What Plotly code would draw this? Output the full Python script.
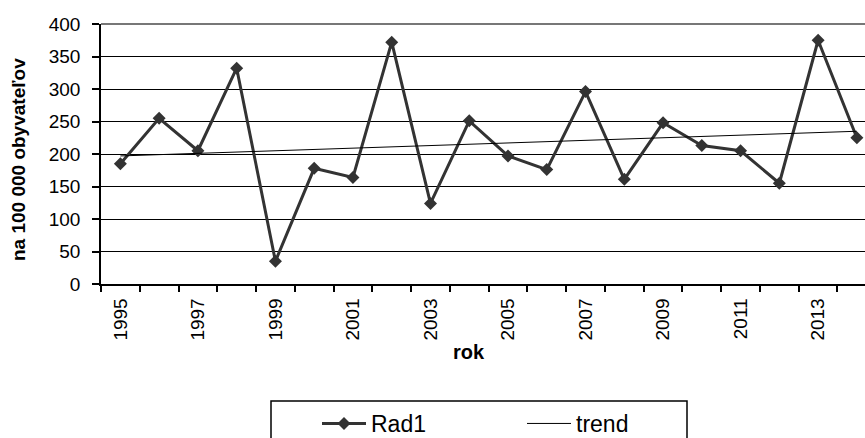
import plotly.graph_objects as go

years = list(range(1995, 2015))
rad1 = [185, 255, 205, 332, 35, 178, 164, 372, 124, 251, 197, 176, 296, 161, 248, 213, 205, 155, 375, 225]
trend_years = [1995, 2014]
trend_vals = [197, 235]
label_years = years[::2]
label_text = [str(y) for y in label_years]

FONT = "Liberation Sans, Arial, sans-serif"

fig = go.Figure()
fig.add_trace(go.Scatter(
    x=years, y=rad1, name="Rad1", mode="lines+markers",
    line=dict(color="#333333", width=3),
    marker=dict(symbol="diamond", size=10, color="#333333"),
))
fig.add_trace(go.Scatter(
    x=trend_years, y=trend_vals, name="trend", mode="lines",
    line=dict(color="#000000", width=1),
))

fig.update_layout(
    width=865, height=438,
    margin=dict(l=101, r=0, t=24, b=154, autoexpand=False),
    paper_bgcolor="white", plot_bgcolor="white",
    font=dict(family=FONT, size=19, color="black"),
    showlegend=True,
    legend=dict(
        orientation="h", x=(317 - 101) / 764, xanchor="left",
        y=(284 - 402) / 260, yanchor="top",
        borderwidth=0, bgcolor="rgba(0,0,0,0)",
        font=dict(size=23), entrywidth=146, entrywidthmode="pixels",
        itemwidth=44,
    ),
    xaxis=dict(
        range=[1994.5, 2014.21],
        tickmode="array", tickvals=label_years, ticktext=label_text,
        tickangle=-90, ticks="", showgrid=False, zeroline=False,
        showline=True, linecolor="black", linewidth=1.5,
        tickfont=dict(size=19), ticklabelstandoff=5,
        minor=dict(tick0=1994.5, dtick=1, ticks="outside", ticklen=6,
                   tickcolor="black", tickwidth=1.5, showgrid=False),
    ),
    yaxis=dict(
        range=[0, 400], dtick=50, tick0=0,
        ticks="outside", ticklen=7, tickcolor="black", tickwidth=1.5,
        showgrid=True, gridcolor="black", gridwidth=1, zeroline=False,
        showline=True, linecolor="black", linewidth=1.5,
        tickfont=dict(size=19), ticklabelstandoff=8,
    ),
    annotations=[
        dict(text="<b>rok</b>", xref="paper", yref="paper",
             x=(469 - 101) / 764, y=(284 - 352) / 260,
             xanchor="center", yanchor="middle",
             showarrow=False, font=dict(size=20)),
        dict(text="<b>na 100 000 obyvateľov</b>", xref="paper", yref="paper",
             x=(19 - 101) / 764, y=(284 - 160) / 260,
             xanchor="center", yanchor="middle",
             textangle=-90, showarrow=False, font=dict(size=19)),
    ],
    shapes=[
        dict(type="line", xref="paper", yref="paper", x0=0, x1=1, y0=1, y1=1,
             line=dict(color="#777777", width=2)),
        dict(type="rect", xref="paper", yref="paper",
             x0=(271 - 101) / 764, x1=(687 - 101) / 764,
             y0=(284 - 460) / 260, y1=(284 - 401) / 260,
             line=dict(color="black", width=1.5), fillcolor="rgba(0,0,0,0)"),
    ],
)

fig.write_html("out.html")
